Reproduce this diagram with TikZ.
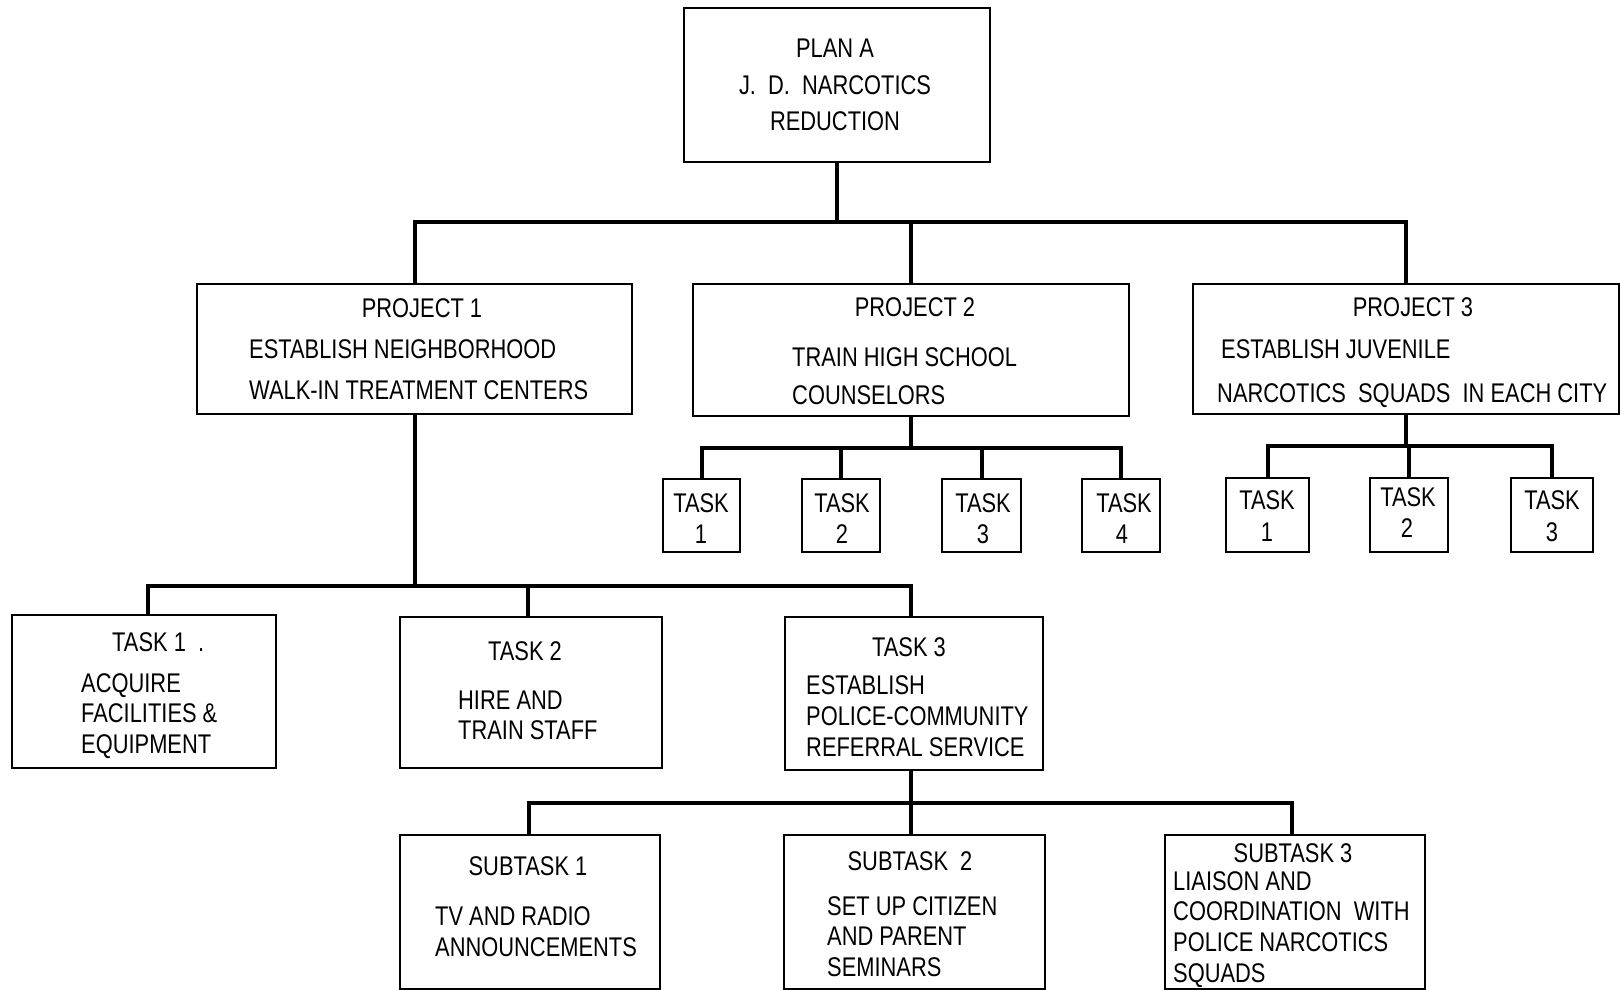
\documentclass[tikz,border=0pt]{standalone}
\usepackage{fontspec}
\setmainfont{Liberation Sans}[FakeStretch=0.81]
\usetikzlibrary{fit}
\tikzset{
  box/.style={draw=black, line width=2.2pt, inner sep=0pt, fill=none},
  conn/.style={draw=black, line width=4pt},
  lbl/.style={inner sep=0pt, text height=19pt, text depth=0pt, font=\fontsize{27pt}{30pt}\selectfont},
}
\begin{document}
\begin{tikzpicture}[x=1pt,y=-1pt]
\useasboundingbox (0,0) rectangle (1621,989);
% boxes
\node[box, fit={(684,8) (990,162)}] (plan) {};
\node[box, fit={(197,284) (632,414)}] (p1) {};
\node[box, fit={(693,284) (1129,416)}] (p2) {};
\node[box, fit={(1193,284) (1619,414)}] (p3) {};
\node[box, fit={(663,479) (740,552)}] (p2t1) {};
\node[box, fit={(802,479) (880,552)}] (p2t2) {};
\node[box, fit={(942,479) (1021,552)}] (p2t3) {};
\node[box, fit={(1082,479) (1160,552)}] (p2t4) {};
\node[box, fit={(1226,478) (1309,552)}] (p3t1) {};
\node[box, fit={(1370,478) (1448,552)}] (p3t2) {};
\node[box, fit={(1511,478) (1593,552)}] (p3t3) {};
\node[box, fit={(12,615) (276,768)}] (t1) {};
\node[box, fit={(400,617) (662,768)}] (t2) {};
\node[box, fit={(785,617) (1043,770)}] (t3) {};
\node[box, fit={(400,835) (660,989)}] (s1) {};
\node[box, fit={(784,835) (1045,989)}] (s2) {};
\node[box, fit={(1165,835) (1425,989)}] (s3) {};
% bus coordinates
\coordinate (bus0) at (835,222);
\coordinate (bus2) at (911,448);
\coordinate (bus3) at (1407,446);
\coordinate (bus1) at (414,586);
\coordinate (bus4) at (911,803);
\coordinate (d1) at (148,586);
\coordinate (d2) at (528,586);
\coordinate (d3) at (911,586);
\coordinate (e1) at (529,803);
\coordinate (e2) at (911,803);
\coordinate (e3) at (1292,803);
% connectors
\draw[conn] (plan.south) -- (plan.south |- bus0);
\draw[conn] (p1.north) -- (p1.north |- bus0) -- (p3.north |- bus0) -- (p3.north);
\draw[conn] (p2.north) -- (p2.north |- bus0);
\draw[conn] (p2.south) -- (p2.south |- bus2);
\draw[conn] (p2t1.north) -- (p2t1.north |- bus2) -- (p2t4.north |- bus2) -- (p2t4.north);
\draw[conn] (p2t2.north) -- (p2t2.north |- bus2);
\draw[conn] (p2t3.north) -- (p2t3.north |- bus2);
\draw[conn] (p3.south) -- (p3.south |- bus3);
\draw[conn] (p3t1.north) -- (p3t1.north |- bus3) -- (p3t3.north |- bus3) -- (p3t3.north);
\draw[conn] (p3t2.north) -- (p3t2.north |- bus3);
\draw[conn] (p1.south) -- (p1.south |- bus1);
\draw[conn] (t1.north -| d1) -- (d1) -- (d3) -- (t3.north -| d3);
\draw[conn] (t2.north -| d2) -- (d2);
\draw[conn] (t3.south -| bus4) -- (bus4);
\draw[conn] (s1.north -| e1) -- (e1) -- (e3) -- (s3.north -| e3);
\draw[conn] (s2.north -| e2) -- (e2);
% texts: plan
\node[lbl] (planA) at (835,48) {PLAN A};
\node[lbl] (planB) at (835,85) {J.\ \ D.\ \ NARCOTICS};
\node[lbl] (planC) at (835,121) {REDUCTION};
% project 1
\node[lbl] (p1a) at (422,308) {PROJECT 1};
\node[lbl, anchor=west] (p1b) at (249,349) {ESTABLISH NEIGHBORHOOD};
\node[lbl, anchor=west] (p1c) at (249,390) {WALK-IN TREATMENT CENTERS};
% project 2
\node[lbl] (p2a) at (915,307) {PROJECT 2};
\node[lbl, anchor=west] (p2b) at (792,357) {TRAIN HIGH SCHOOL};
\node[lbl, anchor=west] (p2c) at (792,395) {COUNSELORS};
% project 3
\node[lbl] (p3a) at (1413,307) {PROJECT 3};
\node[lbl, anchor=west] (p3b) at (1221,349) {ESTABLISH JUVENILE};
\node[lbl, anchor=west] (p3c) at (1217,393) {NARCOTICS \ SQUADS \ IN EACH CITY};
% project 2 tasks
\node[lbl] (p2t1a) at (701,503) {TASK};
\node[lbl] (p2t1b) at (701,534) {1};
\node[lbl] (p2t2a) at (842,503) {TASK};
\node[lbl] (p2t2b) at (842,534) {2};
\node[lbl] (p2t3a) at (983,503) {TASK};
\node[lbl] (p2t3b) at (983,534) {3};
\node[lbl] (p2t4a) at (1124,503) {TASK};
\node[lbl] (p2t4b) at (1122,534) {4};
% project 3 tasks
\node[lbl] (p3t1a) at (1267,500) {TASK};
\node[lbl] (p3t1b) at (1267,532) {1};
\node[lbl] (p3t2a) at (1408,497) {TASK};
\node[lbl] (p3t2b) at (1407,528) {2};
\node[lbl] (p3t3a) at (1552,500) {TASK};
\node[lbl] (p3t3b) at (1552,532) {3};
% task 1
\node[lbl, anchor=west] (t1a) at (112,642) {TASK 1 \ .};
\node[lbl, anchor=west] (t1b) at (81,683) {ACQUIRE};
\node[lbl, anchor=west] (t1c) at (81,713) {FACILITIES \&};
\node[lbl, anchor=west] (t1d) at (81,744) {EQUIPMENT};
% task 2
\node[lbl] (t2a) at (525,651) {TASK 2};
\node[lbl, anchor=west] (t2b) at (458,700) {HIRE AND};
\node[lbl, anchor=west] (t2c) at (458,730) {TRAIN STAFF};
% task 3
\node[lbl] (t3a) at (909,647) {TASK 3};
\node[lbl, anchor=west] (t3b) at (806,685) {ESTABLISH};
\node[lbl, anchor=west] (t3c) at (806,716) {POLICE-COMMUNITY};
\node[lbl, anchor=west] (t3d) at (806,747) {REFERRAL SERVICE};
% subtask 1
\node[lbl] (s1a) at (528,866) {SUBTASK 1};
\node[lbl, anchor=west] (s1b) at (435,916) {TV AND RADIO};
\node[lbl, anchor=west] (s1c) at (435,947) {ANNOUNCEMENTS};
% subtask 2
\node[lbl] (s2a) at (910,861) {SUBTASK\ \ 2};
\node[lbl, anchor=west] (s2b) at (827,906) {SET UP CITIZEN};
\node[lbl, anchor=west] (s2c) at (827,936) {AND PARENT};
\node[lbl, anchor=west] (s2d) at (827,967) {SEMINARS};
% subtask 3
\node[lbl] (s3a) at (1293,853) {SUBTASK 3};
\node[lbl, anchor=west] (s3b) at (1173,881) {LIAISON AND};
\node[lbl, anchor=west] (s3c) at (1173,911) {COORDINATION\ \ WITH};
\node[lbl, anchor=west] (s3d) at (1173,942) {POLICE NARCOTICS};
\node[lbl, anchor=west] (s3e) at (1173,973) {SQUADS};
\end{tikzpicture}
\end{document}
